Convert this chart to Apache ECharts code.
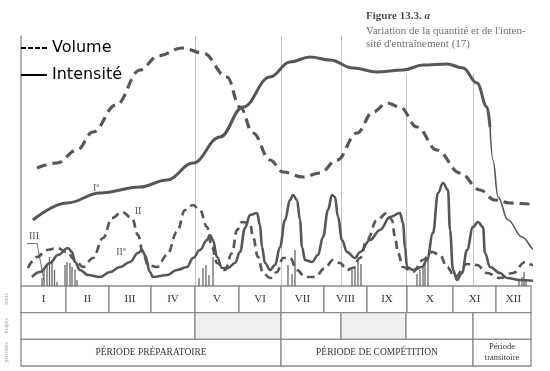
<!DOCTYPE html>
<html><head><meta charset="utf-8">
<script src="https://cdn.jsdelivr.net/npm/echarts@6/dist/echarts.min.js"></script>
<style>html,body{margin:0;padding:0;background:#fff}#c{width:550px;height:371px}</style>
</head><body><div id="c"></div>
<script>
// x = week of the year (0..52), y = relative level
const volume = [[1.6,118],[3.6,123],[5.6,136],[7.2,154],[9.5,181],[11.9,216],[13.7,230],[16.1,238],[18.2,233],[20.6,209],[21.9,179],[23.2,153],[24.9,126],[26.2,114],[28.2,109],[29.9,113],[31.6,126],[33.6,153],[35.2,174],[36.6,183],[37.9,179],[39.6,159],[41.6,136],[43.9,113],[45.9,96],[47.4,86],[48.9,83],[50.9,82],[52.6,83]];
const intensity = [[1.2,66],[4.6,83],[7.9,93],[11.9,99],[14.6,106],[17.2,123],[19.9,149],[22.2,179],[24.9,209],[26.9,224],[28.9,229],[30.9,226],[33.2,218],[35.6,214],[38.2,216],[40.2,221],[42.6,222],[44.2,218],[45.6,203],[46.6,179],[46.9,159]];
const intensityTail = [[46.9,159],[47.2,126],[47.7,89],[48.7,66],[50.1,49],[51.4,36],[52.6,30]];
const loadII = [[0.7,18],[1.6,29],[2.6,36],[3.6,38],[4.6,34],[5.4,26],[6.2,19],[7.2,28],[8.2,48],[9.1,68],[10.1,74],[11.1,68],[11.7,51],[12.2,33],[12.7,21],[13.6,19],[14.6,31],[15.6,54],[16.4,76],[17.2,81],[17.9,76],[18.6,59],[19.1,39],[19.6,23],[20.4,16],[21.1,33],[21.6,56],[22.1,64],[22.9,63],[23.2,49],[23.7,29],[24.2,13],[24.9,8],[25.6,14],[26.2,28],[26.9,28],[27.6,16],[28.4,9],[29.4,9],[30.4,18],[31.2,26],[31.9,23],[32.6,16],[33.2,18],[33.9,28],[34.6,46],[35.6,66],[36.6,73],[37.1,66],[37.4,49],[37.7,33],[38.2,19],[39.2,14],[40.2,26],[41.1,34],[41.9,31],[42.6,19],[43.4,9],[44.6,22],[45.6,21],[46.6,13],[47.9,8],[49.2,13],[50.4,24],[51.2,21],[52.6,18]];
const intensityIIa = [[1.1,9],[1.9,14],[2.9,23],[3.7,31],[4.7,38],[5.1,34],[5.4,24],[5.9,16],[6.7,11],[7.9,9],[8.9,14],[9.9,19],[10.9,24],[11.7,33],[12.1,36],[12.4,31],[12.9,14],[13.2,9],[14.6,11],[15.6,16],[16.6,19],[17.2,28],[17.9,36],[18.6,46],[18.9,51],[19.2,46],[19.6,29],[20.1,18],[20.7,18],[21.4,23],[21.9,34],[22.4,58],[22.9,71],[23.6,73],[23.9,61],[24.1,39],[24.4,23],[24.9,16],[25.4,21],[25.9,39],[26.4,66],[26.9,86],[27.2,91],[27.6,86],[27.9,66],[28.1,39],[28.4,26],[29.1,24],[29.7,31],[30.2,49],[30.7,76],[31.1,91],[31.4,89],[31.7,69],[32.1,46],[32.6,34],[33.4,28],[33.9,34],[34.9,46],[35.9,56],[36.9,69],[37.9,73],[38.2,63],[38.4,39],[38.6,19],[39.2,16],[40.1,19],[40.6,26],[41.2,53],[41.7,93],[42.2,103],[42.7,96],[42.9,56],[43.2,16],[43.6,6],[44.1,13],[44.6,36],[45.2,59],[45.7,64],[46.2,59],[46.4,33],[46.9,19],[47.9,13],[48.6,8],[49.9,6],[52.2,4]];
const loadsIII = [[2.1,8],[2.3,16],[2.6,21],[2.85,29],[3.1,26],[3.35,16],[3.6,4],[4.4,21],[4.6,24],[4.9,23],[5.1,19],[5.4,16],[5.6,6],[17.8,8],[18.2,18],[18.5,21],[18.8,11],[19.2,29],[26.7,21],[27.1,12],[27.4,36],[33.1,16],[33.4,20],[33.7,24],[34.0,22],[39.6,12],[39.9,16],[40.2,19],[40.4,23],[40.7,27],[49.8,6],[50.1,9],[50.3,14],[50.5,6]];
const months = ['I','II','III','IV','V','VI','VII','VIII','IX','X','XI','XII'];
const monthEdges = [0,4.5,8.8,13.0,17.4,21.8,26.0,30.3,34.6,38.6,43.2,47.5,51];
const stageEdges = [0,17.4,26.0,32.0,38.5,45.2,51];
const stageShade = [0,1,0,1,0,0];
const periods = ['PÉRIODE PRÉPARATOIRE','PÉRIODE DE COMPÉTITION','Période\ntransitoire'];
const periodEdges = [0,26.0,45.2,51];
const rowNames = ['mois','étapes','périodes'];

const serif = '"Liberation Serif","DejaVu Serif",serif';
const ink = '#575757';

const cells = [];
months.forEach((m,i)=>cells.push({s:monthEdges[i],e:monthEdges[i+1],row:2,label:m,font:'11px '+serif,shade:0}));
stageShade.forEach((sh,i)=>cells.push({s:stageEdges[i],e:stageEdges[i+1],row:1,label:'',font:'10px '+serif,shade:sh}));
periods.forEach((p,i)=>cells.push({s:periodEdges[i],e:periodEdges[i+1],row:0,label:p,font:(i===2?'8.5px ':'9.5px ')+serif,shade:0}));

const gridLines = stageEdges.slice(1,-1).map((x,i)=>[{coord:[x,0]},{coord:[x,i<3?250:212]}]);

const chart = echarts.init(document.getElementById('c'));
const mp = (name, coord) => ({name, coord});
const mpStyle = {symbol:'circle',symbolSize:1,itemStyle:{color:'rgba(0,0,0,0)'},
  label:{show:true,position:'inside',formatter:'{b}',color:'#555',fontFamily:serif,fontSize:10}};

chart.setOption({
  animation:false,
  title:[
    {left:366, top:11, padding:0,
     text:'{b|Figure 13.3. }{i|a}',
     textStyle:{rich:{b:{fontFamily:serif,fontSize:11,fontWeight:'bold',color:'#505050'},i:{fontFamily:serif,fontSize:11,fontStyle:'italic',color:'#505050'}}}},
    {left:366, top:24, padding:0,
     text:"Variation de la quantité et de l'inten-\nsité d'entraînement (17)",
     textStyle:{fontFamily:serif,fontSize:11,fontWeight:'normal',color:'#707070',lineHeight:13.5}}
  ],
  legend:{
    orient:'vertical', left:20, top:40, padding:0, itemWidth:26, itemHeight:14, itemGap:11,
    selectedMode:false,
    textStyle:{fontFamily:'"DejaVu Sans"',fontSize:16,color:'#000'},
    data:[
      {name:'Volume',itemStyle:{opacity:0},lineStyle:{color:'#000',width:2,type:[5,2]}},
      {name:'Intensité',itemStyle:{opacity:0},lineStyle:{color:'#000',width:2,type:'solid'}}
    ]
  },
  grid:[
    {left:21,width:510,top:36,height:250},
    {left:21,width:510,top:286,height:80}
  ],
  xAxis:[
    {type:'value',gridIndex:0,min:0,max:51,axisLine:{show:false},axisTick:{show:false},axisLabel:{show:false},splitLine:{show:false}},
    {type:'value',gridIndex:1,min:0,max:51,show:false}
  ],
  yAxis:[
    {type:'value',gridIndex:0,min:0,max:250,axisLine:{show:true,lineStyle:{color:'#9a9a9a',width:1.5}},axisTick:{show:false},axisLabel:{show:false},splitLine:{show:false}},
    {type:'value',gridIndex:1,min:0,max:3,show:false}
  ],
  series:[
    {name:'Volume',type:'line',data:volume,smooth:0.4,smoothMonotone:'x',symbol:'none',clip:false,z:4,
      lineStyle:{color:ink,width:3.2,type:[10,6]}},
    {name:'Intensité',type:'line',data:intensity,smooth:0.4,smoothMonotone:'x',symbol:'none',clip:false,z:4,
      lineStyle:{color:ink,width:3},
      markPoint:Object.assign({data:[mp('Iª',[7.5,98])]},mpStyle)},
    {name:'intensité (fin)',type:'line',data:intensityTail,smooth:0.4,smoothMonotone:'x',symbol:'none',clip:false,z:4,
      lineStyle:{color:ink,width:1.6}},
    {name:'II',type:'line',data:loadII,smooth:0.4,smoothMonotone:'x',symbol:'none',clip:false,z:4,
      lineStyle:{color:ink,width:2.7,type:[8,5]},
      markPoint:Object.assign({data:[mp('II',[11.7,75])]},mpStyle)},
    {name:'IIª',type:'line',data:intensityIIa,smooth:0.4,smoothMonotone:'x',symbol:'none',clip:false,z:4,
      lineStyle:{color:ink,width:2.6},
      markPoint:Object.assign({data:[mp('IIª',[10.0,34])]},mpStyle)},
    {name:'III',type:'bar',data:loadsIII,barWidth:1.3,itemStyle:{color:'#666'},z:3,
      markPoint:Object.assign({data:[mp('III',[1.3,50])]},mpStyle),
      markLine:{silent:true,symbol:'none',label:{show:false},z:1,
        lineStyle:{color:'#c4c4c4',width:1,type:'solid'},
        data:gridLines.concat([
          [{coord:[0.6,43],lineStyle:{color:'#777'}},{coord:[1.6,43]}],
          [{coord:[1.6,43],lineStyle:{color:'#777'}},{coord:[2.3,5]}]
        ])}},
    {name:'table',type:'custom',xAxisIndex:1,yAxisIndex:1,clip:false,silent:true,
      data:cells.map(c=>[c.s,c.e,c.row]),
      encode:{x:[0,1],y:2},
      renderItem:function(params,api){
        const c = cells[params.dataIndex];
        const p0 = api.coord([c.s,c.row+1]);
        const p1 = api.coord([c.e,c.row]);
        return {type:'group',children:[
          {type:'rect',shape:{x:p0[0],y:p0[1],width:p1[0]-p0[0],height:p1[1]-p0[1]},
            style:{fill:c.shade?'#efefef':'#fff',stroke:'#8c8c8c',lineWidth:1.3}},
          {type:'text',style:{text:c.label,x:(p0[0]+p1[0])/2,y:(p0[1]+p1[1])/2,align:'center',verticalAlign:'middle',font:c.font,fill:'#333',lineHeight:11}}
        ]};
      }}
  ],
  graphic:rowNames.map((t,i)=>({type:'text',x:6,y:299+i*26.7,rotation:Math.PI/2,
    style:{text:t,font:'6px '+serif,fill:'#aaa',align:'center',verticalAlign:'middle'}}))
});
</script>
</body></html>
